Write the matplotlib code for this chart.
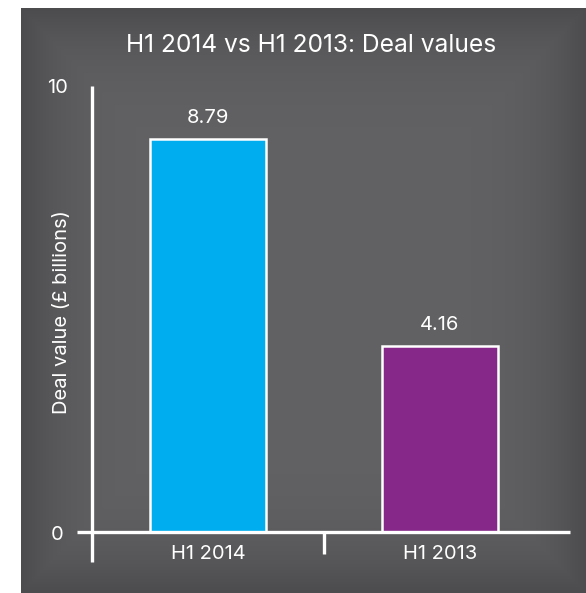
import numpy as np
from matplotlib import pyplot as plt

categories = ["H1 2014", "H1 2013"]
values = [8.79, 4.16]
value_labels = ["8.79", "4.16"]
bar_colors = ["#00aeef", "#86288a"]
y_ticks = [0, 10]

W, H = 586, 593
plt.rcParams['font.family'] = ['Inter', 'DejaVu Sans']
fig = plt.figure(figsize=(W / 100, H / 100), dpi=100)
fig.patch.set_facecolor("white")

# dark panel with a soft vignette
bg = fig.add_axes([21 / W, 0, 1 - 21 / W, 1 - 8 / H])
yy, xx = np.mgrid[-1:1:200j, -1:1:200j]
r = np.clip(np.maximum(np.abs(xx), np.abs(yy)) ** 6, 0, 1)
base = np.array([0x62, 0x62, 0x64]) / 255
edge = np.array([0x4c, 0x4c, 0x4e]) / 255
img = base[None, None, :] * (1 - r[..., None]) + edge[None, None, :] * r[..., None]
bg.imshow(img, aspect="auto", extent=[0, 1, 0, 1])
bg.set_axis_off()

# plot area: x from 92 to 556 px, y from 532 (0) to 85 (10)
ax = fig.add_axes([92 / W, 1 - 532 / H, (556 - 92) / W, (532 - 85) / H])
ax.set_facecolor("none")
for s in ax.spines.values():
    s.set_visible(False)
ax.set_xlim(-0.5, 1.5)
ax.set_ylim(0, 10)
ax.set_xticks([])
ax.set_yticks([])

fs = 14.5
x = np.arange(len(categories))
ax.bar(x, values, width=0.5, color=bar_colors, edgecolor="white", linewidth=1.8, zorder=3)
for xi, v, lab in zip(x, values, value_labels):
    ax.annotate(lab, (xi, v), xytext=(0, 15), textcoords="offset points",
                ha="center", va="center", color="white", fontsize=fs)

lw = 2.4
ax.plot([-0.565, 1.56], [0, 0], color="white", lw=lw, clip_on=False, solid_capstyle="butt", zorder=4)
ax.plot([-0.5, -0.5], [-0.67, 9.98], color="white", lw=lw, clip_on=False, solid_capstyle="butt", zorder=4)
ax.plot([0.5, 0.5], [0, -0.5], color="white", lw=lw, clip_on=False, solid_capstyle="butt", zorder=4)

for t in y_ticks:
    ax.annotate(str(t), (-0.65, t), xytext=(0, -2), textcoords="offset points",
                ha="center", va="center", color="white", fontsize=fs, annotation_clip=False)
for xi, c in zip(x, categories):
    ax.text(xi, -0.5, c, ha="center", va="center", color="white", fontsize=fs)

fig.text(62 / W, 1 - 312 / H, "Deal value (£ billions)", rotation=90, ha="center", va="center",
         color="white", fontsize=fs)
fig.text(311 / W, 1 - 45 / H, "H1 2014 vs H1 2013: Deal values", ha="center", va="center",
         color="white", fontsize=17.7)

fig.savefig("out.png", dpi=100, facecolor="white")
